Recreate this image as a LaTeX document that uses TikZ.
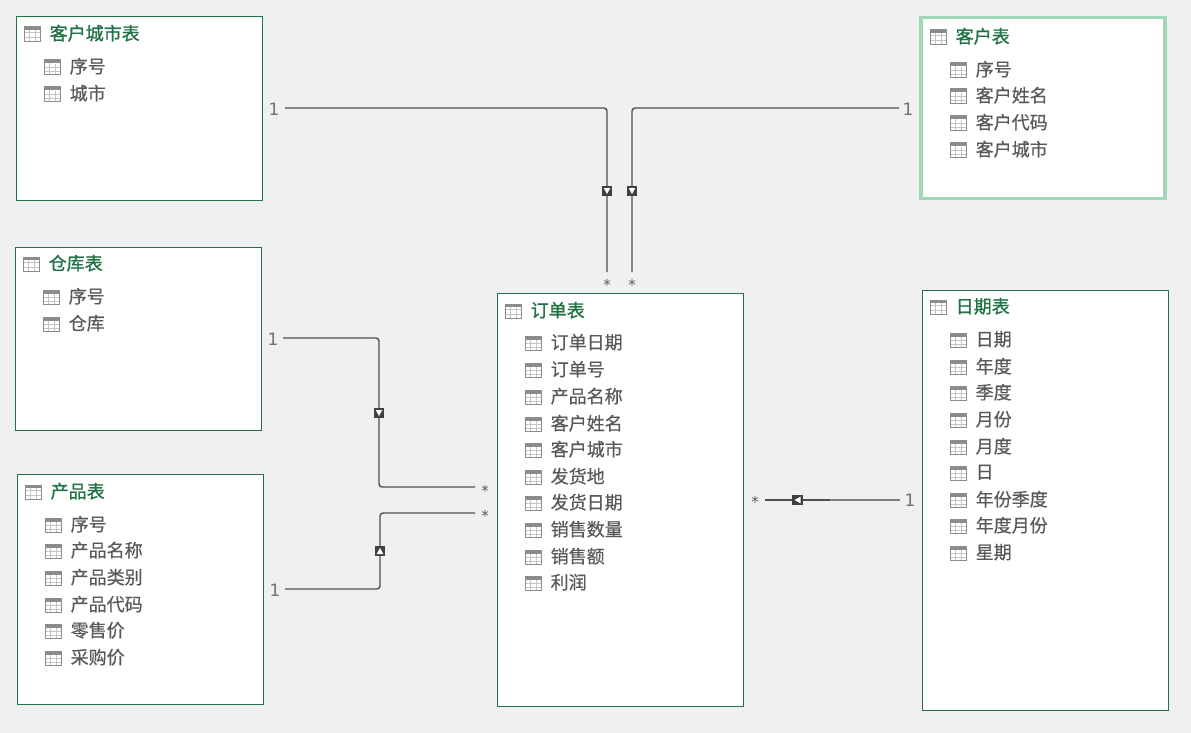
\documentclass[tikz,border=0pt]{standalone}
\usepackage{fontspec}
\setmainfont{Noto Sans CJK SC}
\newfontfamily\numfont{DejaVu Sans}
\newfontfamily\fieldfont[FakeBold=0.5]{Noto Sans CJK SC}
\newfontfamily\titlefont[FakeBold=1.1]{Noto Sans CJK SC}
\definecolor{bgc}{HTML}{F0F0F0}
\definecolor{boxc}{HTML}{217346}
\definecolor{selc}{HTML}{A0D8B8}
\definecolor{fieldc}{HTML}{595959}
\definecolor{linec}{HTML}{505050}
\definecolor{lightlinec}{HTML}{808080}
\definecolor{iconc}{HTML}{8C8C8C}
\definecolor{gridc}{HTML}{C4C4C4}
\definecolor{badgec}{HTML}{404040}
\tikzset{
  x=1pt,y=-1pt,
  tablebox/.style={draw=boxc,line width=1pt,fill=white,anchor=north west,inner sep=0pt,outer sep=0pt},
  selbox/.style={tablebox,draw=selc,line width=3.5pt,xshift=-1.5pt},
  titletxt/.style={anchor=west,inner sep=0pt,yshift=.8pt,text=boxc,font=\titlefont\fontsize{18}{18}\selectfont},
  fieldtxt/.style={anchor=west,inner sep=0pt,yshift=.8pt,text=fieldc,font=\fieldfont\fontsize{18}{18}\selectfont},
  onelabel/.style={inner sep=0pt,text=fieldc!85,font=\numfont\fontsize{17}{18}\selectfont},
  starlabel/.style={inner sep=0pt,text=fieldc,font=\numfont\fontsize{15}{15}\selectfont},
  rel/.style={draw=linec,line width=1.4pt,rounded corners=3pt},
  relfaint/.style={draw=lightlinec,line width=1.8pt},
  badge/.style={fill=badgec,minimum size=10.5pt,inner sep=0pt,outer sep=0pt},
  tri/.style={fill=white,draw=none},
}
% title icon: grid with three columns
\newcommand{\titleicon}[2]{%
  \begin{scope}[shift={(#1,#2)}]
    \fill[white] (0,-7) rectangle (17,8);
    \draw[gridc,line width=.8pt] (0,-2) -- (17,-2) (0,3) -- (17,3) (5.5,-7) -- (5.5,8) (11.5,-7) -- (11.5,8);
    \fill[iconc] (0,-7.5) rectangle (17,-4);
    \draw[iconc,line width=1pt] (0.5,-7) rectangle (16.5,7.5);
  \end{scope}}
% field icon: header row and first column
\newcommand{\fieldicon}[2]{%
  \begin{scope}[shift={(#1,#2)}]
    \fill[white] (0,-7) rectangle (17,8);
    \draw[gridc,line width=.8pt] (0,0.5) -- (17,0.5) (0,4) -- (17,4) (5,-7) -- (5,8) (11,-3) -- (11,8);
    \fill[iconc] (0,-7.5) rectangle (17,-3.5);
    \draw[iconc,line width=1pt] (0.5,-7) rectangle (16.5,7.5);
  \end{scope}}
% #1 name, #2 style, #3 x1, #4 y1, #5 w, #6 h, #7 title, #8 title y, #9 fields (y/text)
\newcommand{\tbl}[9]{%
  \pgfmathsetmacro{\bx}{#3+.5}
  \pgfmathsetmacro{\by}{#4+.5}
  \node[#2,minimum width=#5pt,minimum height=#6pt] (#1) at (\bx,\by) {};
  \pgfmathsetmacro{\ix}{#3+8}
  \titleicon{\ix}{#8}
  \pgfmathsetmacro{\tx}{#3+33.5}
  \node[titletxt] (#1title) at (\tx,#8) {#7};
  \pgfmathsetmacro{\fldx}{#3+28}
  \pgfmathsetmacro{\gx}{#3+53.5}
  \foreach \fldy/\fldt [count=\fldn] in {#9} {
    \fieldicon{\fldx}{\fldy}
    \node[fieldtxt] (#1f\fldn) at (\gx,\fldy) {\fldt};
  }}
\begin{document}
\begin{tikzpicture}
\path[use as bounding box,fill=bgc] (0,0) rectangle (1191,733);

\tbl{city}{tablebox}{16}{16}{246}{184}{客户城市表}{34}{67/序号,94/城市}
\tbl{cust}{selbox}{922}{17}{244}{181}{客户表}{37}{70/序号,96/客户姓名,123/客户代码,150/客户城市}
\tbl{wh}{tablebox}{15}{247}{246}{183}{仓库表}{264}{297/序号,324/仓库}
\tbl{prod}{tablebox}{17}{474}{246}{230}{产品表}{492}{525/序号,551/产品名称,578/产品类别,605/产品代码,631/零售价,658/采购价}
\tbl{ord}{tablebox}{497}{293}{246}{413}{订单表}{311}{343/订单日期,370/订单号,397/产品名称,424/客户姓名,450/客户城市,477/发货地,503/发货日期,530/销售数量,557/销售额,583/利润}
\tbl{date}{tablebox}{922}{290}{246}{420}{日期表}{307}{340/日期,367/年度,393/季度,420/月份,447/月度,473/日,500/年份季度,526/年度月份,553/星期}

% end points of the relationship lines
\coordinate (r1a) at (285,108); \coordinate (r1b) at (607,272);
\coordinate (r2a) at (899,108); \coordinate (r2b) at (632,272);
\coordinate (r3a) at (283,338); \coordinate (r3m) at (379,413); \coordinate (r3b) at (475,487);
\coordinate (r4a) at (285,589); \coordinate (r4m) at (380,551); \coordinate (r4b) at (475,513);
\coordinate (r5a) at (900,500); \coordinate (r5m) at (830,500); \coordinate (r5b) at (765,500);

\draw[rel] (r1a) -| (r1b);
\draw[rel] (r2a) -| (r2b);
\draw[rel] (r3a) -| (r3m) |- (r3b);
\draw[rel] (r4a) -| (r4m) |- (r4b);
\draw[rel] (r5m) -- (r5b);
\draw[relfaint] (r5a) -- (r5m);

% direction badges
\node[badge] (b1) at (607,191) {};
\fill[tri] (603.7,188) -- (610.3,188) -- (607,194) -- cycle;
\node[badge] (b2) at (632,191) {};
\fill[tri] (628.7,188) -- (635.3,188) -- (632,194) -- cycle;
\node[badge] (b3) at (379,413) {};
\fill[tri] (375.7,410) -- (382.3,410) -- (379,416) -- cycle;
\node[badge] (b4) at (380,551) {};
\fill[tri] (376.7,554) -- (383.3,554) -- (380,548) -- cycle;
\node[badge] (b5) at (797.5,500) {};
\fill[tri] (800.5,496.7) -- (800.5,503.3) -- (794.5,500) -- cycle;

% cardinalities
\node[onelabel] (l1) at (274,109) {1};
\node[onelabel] (l2) at (908,109) {1};
\node[onelabel] (l3) at (273,339) {1};
\node[onelabel] (l4) at (275,590) {1};
\node[onelabel] (l5) at (910,500) {1};
\node[starlabel] (s1) at (607,285) {*};
\node[starlabel] (s2) at (632,285) {*};
\node[starlabel] (s3) at (485,491) {*};
\node[starlabel] (s4) at (485,516) {*};
\node[starlabel] (s5) at (755,502) {*};
\end{tikzpicture}
\end{document}
